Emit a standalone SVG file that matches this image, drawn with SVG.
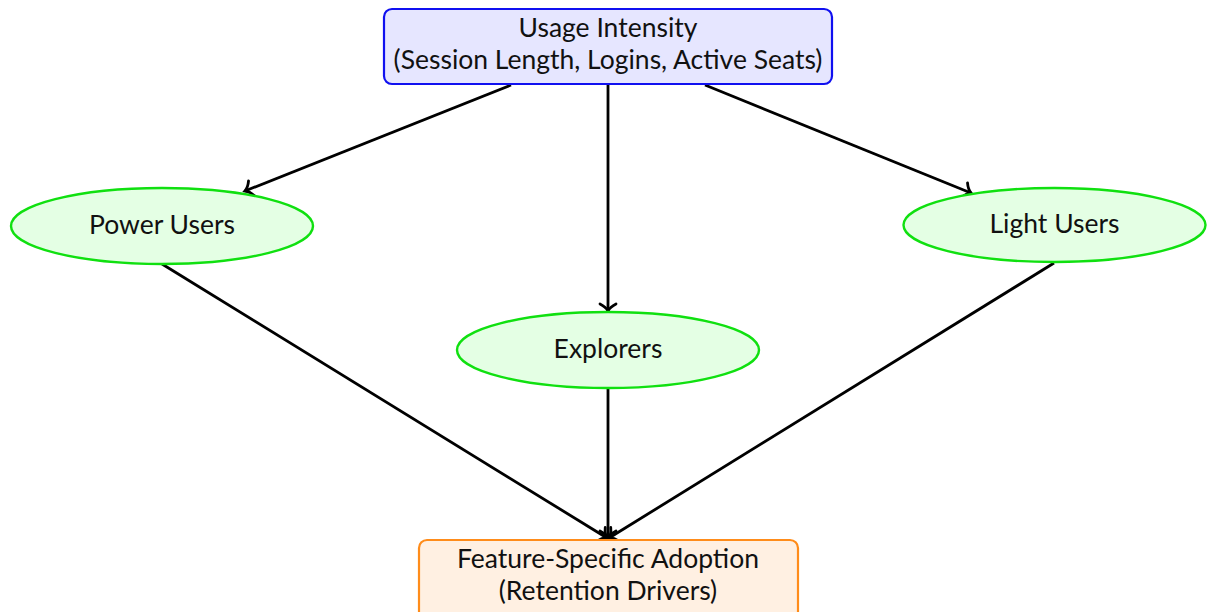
<svg xmlns="http://www.w3.org/2000/svg" width="1213" height="612" viewBox="0 0 1213 612">
<style>
  text { font-family: Lato, "Open Sans", sans-serif; font-size: 26.5px; fill: #111; text-anchor: middle; }
  .box-blue { fill: #e6e6ff; stroke: #1010f0; stroke-width: 2.2; }
  .ell { fill: #e4ffe4; stroke: #10e010; stroke-width: 2.4; }
  .box-orange { fill: #fff0e2; stroke: #ff8c1a; stroke-width: 2.2; }
  .edge { fill: none; stroke: #000; stroke-width: 2.8; marker-end: url(#tip); }
</style>
<defs>
  <marker id="tip" markerUnits="userSpaceOnUse" viewBox="-10 -10 20 20" markerWidth="20" markerHeight="20" refX="0" refY="0" orient="auto" overflow="visible">
    <path d="M -7 -8 C -4.5 -3, -1.5 -0.8, 0 0 C -1.5 0.8, -4.5 3, -7 8" fill="none" stroke="#000" stroke-width="2.8" stroke-linecap="round"/>
  </marker>
</defs>
<g id="connectors">
  <line class="edge" x1="511" y1="85" x2="245" y2="191"/>
  <line class="edge" x1="608" y1="85" x2="608" y2="311"/>
  <line class="edge" x1="705" y1="85" x2="971" y2="193"/>
  <line class="edge" x1="162" y1="264" x2="607" y2="538"/>
  <line class="edge" x1="608" y1="388" x2="608" y2="538"/>
  <line class="edge" x1="1054" y1="263" x2="609" y2="538"/>
</g>
<g id="usage">
  <rect class="box-blue" x="384" y="9" width="448" height="75" rx="8"/>
  <text x="608" y="37">Usage Intensity</text>
  <text x="608" y="69">(Session Length, Logins, Active Seats)</text>
</g>
<g id="power">
  <ellipse class="ell" cx="162" cy="226" rx="151" ry="38"/>
  <text x="162" y="234">Power Users</text>
</g>
<g id="explorers">
  <ellipse class="ell" cx="608" cy="350" rx="151" ry="38"/>
  <text x="608" y="358">Explorers</text>
</g>
<g id="light">
  <ellipse class="ell" cx="1054.5" cy="225" rx="151" ry="37"/>
  <text x="1054.5" y="233">Light Users</text>
</g>
<g id="adoption">
  <rect class="box-orange" x="419" y="540" width="379" height="80" rx="8"/>
  <text x="608" y="568">Feature-Specific Adoption</text>
  <text x="608" y="600">(Retention Drivers)</text>
</g>
</svg>
